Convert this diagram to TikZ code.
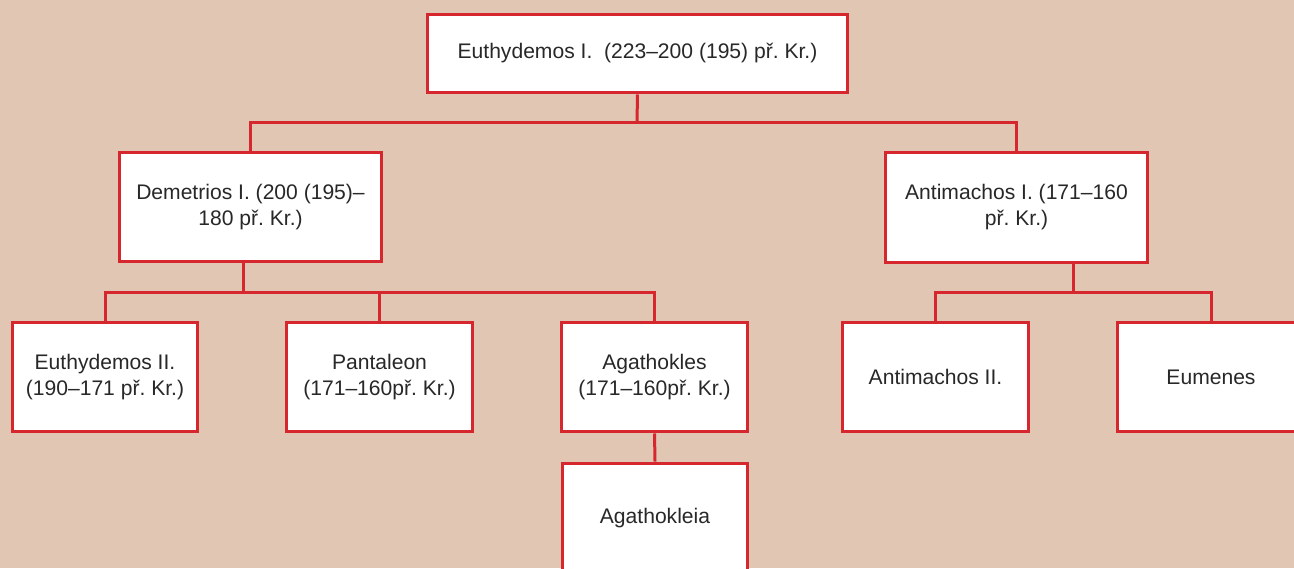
\documentclass[tikz,border=0pt]{standalone}
\usepackage{fontspec}
\setmainfont{Liberation Sans}
\definecolor{fond}{RGB}{226,198,180}
\definecolor{rouge}{RGB}{214,38,46}
\definecolor{texte}{RGB}{40,40,40}

\begin{document}
\frenchspacing
\begin{tikzpicture}[x=0.02cm,y=-0.02cm,
  boite/.style={draw=rouge,line width=0.06cm,fill=white,text=texte,align=center,
    inner sep=0pt,minimum width=3.72cm,minimum height=2.2cm,
    font=\fontsize{12}{14.8}\selectfont},
  lien/.style={draw=rouge,line width=0.06cm}]
\clip (0,0) rectangle (1294,568);
\fill [fond] (0,0) rectangle (1294,568);

% rangee du haut
\node [boite,minimum width=8.42cm,minimum height=1.58cm] (eu1) at (637.5,53.5) {Euthydemos I.~\ (223–200 (195) př. Kr.)};

% deuxieme rangee
\node [boite,minimum width=5.26cm] (dem) at (250.5,207) {Demetrios I. (200 (195)–\\180 př. Kr.)};
\node [boite,minimum width=5.26cm] (ant1) at (1016.5,207.5) {Antimachos I. (171–160\\př. Kr.)};

% troisieme rangee
\node [boite] (eu2) at (105,377) {Euthydemos II.\\(190–171 př. Kr.)};
\node [boite] (pan) at (379.5,377) {Pantaleon\\(171–160př. Kr.)};
\node [boite] (agk) at (654.5,377) {Agathokles\\(171–160př. Kr.)};
\node [boite] (ant2) at (935.5,377) {Antimachos II.};
\node [boite,minimum width=3.76cm] (eum) at (1211,377) {Eumenes};

\node [boite] (agl) at (655,518) {Agathokleia};

% liens
\coordinate (busA) at (637,122);
\coordinate (busD) at (243,292);
\coordinate (busB) at (1073,292);

\draw [lien] (eu1.south) -- (busA);
\draw [lien] (dem.north) |- (busA) -| (ant1.north);

\draw [lien] (busD |- dem.south) -- (busD);
\draw [lien] (eu2.north) |- (busD) -| (agk.north);
\draw [lien] (pan.north |- busD) -- (pan.north);

\draw [lien] (busB |- ant1.south) -- (busB);
\draw [lien] (ant2.north) |- (busB) -| (eum.north);

\draw [lien] (agk.south) -- (agl.north);
\end{tikzpicture}
\end{document}
